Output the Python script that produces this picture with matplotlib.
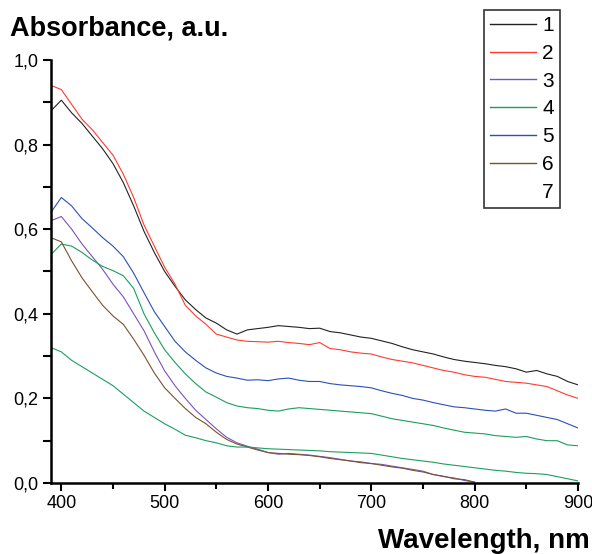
import numpy as np
import matplotlib
matplotlib.use("Agg")
import matplotlib.pyplot as plt
from matplotlib.lines import Line2D
from matplotlib.ticker import MultipleLocator, FuncFormatter

plt.rcParams['font.family'] = ['Liberation Sans', 'DejaVu Sans']

wavelength = np.arange(390, 901, 10)

s1 = [0.88, 0.905, 0.875, 0.85, 0.82, 0.79, 0.755, 0.71, 0.655, 0.595,
      0.545, 0.50, 0.465, 0.433, 0.41, 0.39, 0.378, 0.362, 0.352, 0.362,
      0.365, 0.368, 0.372, 0.370, 0.368, 0.365, 0.366, 0.358, 0.355, 0.35,
      0.345, 0.342, 0.336, 0.33, 0.322, 0.315, 0.31, 0.305, 0.298, 0.292,
      0.288, 0.285, 0.282, 0.278, 0.275, 0.27, 0.262, 0.266, 0.258, 0.252,
      0.24, 0.232]
s2 = [0.94, 0.93, 0.895, 0.86, 0.835, 0.805, 0.775, 0.73, 0.675, 0.61,
      0.56, 0.51, 0.47, 0.42, 0.395, 0.375, 0.352, 0.345, 0.338, 0.335,
      0.334, 0.333, 0.335, 0.332, 0.33, 0.327, 0.332, 0.318, 0.315, 0.31,
      0.307, 0.305, 0.298, 0.292, 0.288, 0.284, 0.278, 0.272, 0.266, 0.262,
      0.256, 0.252, 0.25, 0.245, 0.24, 0.238, 0.236, 0.232, 0.228, 0.218,
      0.208, 0.2]
s3 = [0.62, 0.63, 0.60, 0.565, 0.535, 0.505, 0.47, 0.44, 0.40, 0.36,
      0.31, 0.265, 0.23, 0.2, 0.172, 0.15, 0.128, 0.108, 0.095, 0.087,
      0.08, 0.072, 0.068, 0.07, 0.068, 0.066, 0.063, 0.06, 0.056, 0.052,
      0.05, 0.046, 0.044, 0.04, 0.036, 0.032, 0.028, 0.02, 0.015, 0.012,
      0.006, 0.002] + [np.nan] * 10
s4 = [0.54, 0.565, 0.56, 0.545, 0.527, 0.512, 0.502, 0.49, 0.46, 0.40,
      0.355, 0.315, 0.285, 0.258, 0.235, 0.215, 0.203, 0.19, 0.182, 0.178,
      0.176, 0.172, 0.17, 0.175, 0.178, 0.176, 0.174, 0.172, 0.17, 0.168,
      0.166, 0.164, 0.158, 0.152, 0.148, 0.144, 0.14, 0.136, 0.13, 0.125,
      0.12, 0.118, 0.116, 0.112, 0.11, 0.108, 0.11, 0.104, 0.1, 0.1,
      0.09, 0.088]
s5 = [0.64, 0.675, 0.655, 0.625, 0.603, 0.58, 0.56, 0.535, 0.496, 0.45,
      0.405, 0.37, 0.335, 0.31, 0.29, 0.272, 0.26, 0.252, 0.248, 0.243,
      0.244, 0.242, 0.246, 0.248, 0.243, 0.24, 0.24, 0.235, 0.232, 0.23,
      0.228, 0.225, 0.218, 0.212, 0.207, 0.2, 0.196, 0.19, 0.185, 0.18,
      0.178, 0.175, 0.172, 0.17, 0.175, 0.165, 0.165, 0.16, 0.155, 0.15,
      0.14, 0.13]
s6 = [0.58, 0.57, 0.525, 0.485, 0.452, 0.42, 0.395, 0.375, 0.34, 0.302,
      0.26, 0.225, 0.2, 0.176, 0.155, 0.14, 0.12, 0.103, 0.092, 0.085,
      0.078, 0.072, 0.07, 0.068, 0.067, 0.065, 0.062, 0.058, 0.055, 0.052,
      0.048, 0.046, 0.042, 0.038, 0.035, 0.03, 0.026, 0.02, 0.016, 0.01,
      0.008, 0.002] + [np.nan] * 10
s7 = [0.32, 0.31, 0.29, 0.275, 0.26, 0.245, 0.23, 0.21, 0.19, 0.17,
      0.155, 0.14, 0.127, 0.113, 0.107, 0.1, 0.095, 0.088, 0.085, 0.085,
      0.083, 0.081, 0.08, 0.079, 0.078, 0.077, 0.076, 0.074, 0.073, 0.072,
      0.071, 0.07, 0.066, 0.062, 0.058, 0.055, 0.052, 0.049, 0.045, 0.042,
      0.039, 0.036, 0.033, 0.03, 0.028, 0.025, 0.023, 0.022, 0.02, 0.015,
      0.01, 0.005]

labels = ['1', '2', '3', '4', '5', '6', '7']
series = [s1, s2, s3, s4, s5, s6, s7]
colors = ['#222222', '#ff3b30', '#7b52c1', '#1a9e5c', '#2c4fb8', '#7a5230', '#1aa060']

fig = plt.figure(figsize=(5.92, 5.54), dpi=100)
ax = fig.add_axes([51/592, 1-483/554, (578-51)/592, (483-60)/554])

for s, c in zip(series, colors):
    ax.plot(wavelength, s, color=c, lw=0.8)

ax.set_xlim(390, 900)
ax.set_ylim(0, 1.0)
for sp in ['top', 'right']:
    ax.spines[sp].set_visible(False)
for sp in ['left', 'bottom']:
    ax.spines[sp].set_linewidth(1.8)

ax.xaxis.set_major_locator(MultipleLocator(100))
ax.xaxis.set_minor_locator(MultipleLocator(50))
ax.yaxis.set_major_locator(MultipleLocator(0.2))
ax.yaxis.set_minor_locator(MultipleLocator(0.1))
ax.yaxis.set_major_formatter(FuncFormatter(lambda v, p: f"{v:.1f}".replace('.', ',')))
ax.tick_params(axis='both', which='major', direction='out', length=6, width=1.5, labelsize=13, pad=3)
ax.tick_params(axis='x', which='minor', direction='out', length=4, width=1.5)
ax.tick_params(axis='y', which='minor', direction='out', length=6, width=1.5)

fig.text(10/592, 1-35/554, 'Absorbance, a.u.', fontsize=19.5, fontweight='bold', ha='left', va='baseline')
fig.text(590/592, 1-548/554, 'Wavelength, nm', fontsize=20, fontweight='bold', ha='right', va='baseline')

handles = []
for i, c in enumerate(colors):
    if i == 6:
        handles.append(Line2D([], [], color='none', lw=1))
    else:
        handles.append(Line2D([], [], color=c, lw=1))
leg = fig.legend(handles, labels, loc='upper right', bbox_to_anchor=(560/592, 1-10/554),
                 borderaxespad=0, fontsize=15, frameon=True, fancybox=False,
                 handlelength=2.2, handletextpad=0.3, labelspacing=0.42, borderpad=0.3)
leg.get_frame().set_edgecolor('black')
leg.get_frame().set_linewidth(1.2)

fig.savefig('out.png', dpi=100)
